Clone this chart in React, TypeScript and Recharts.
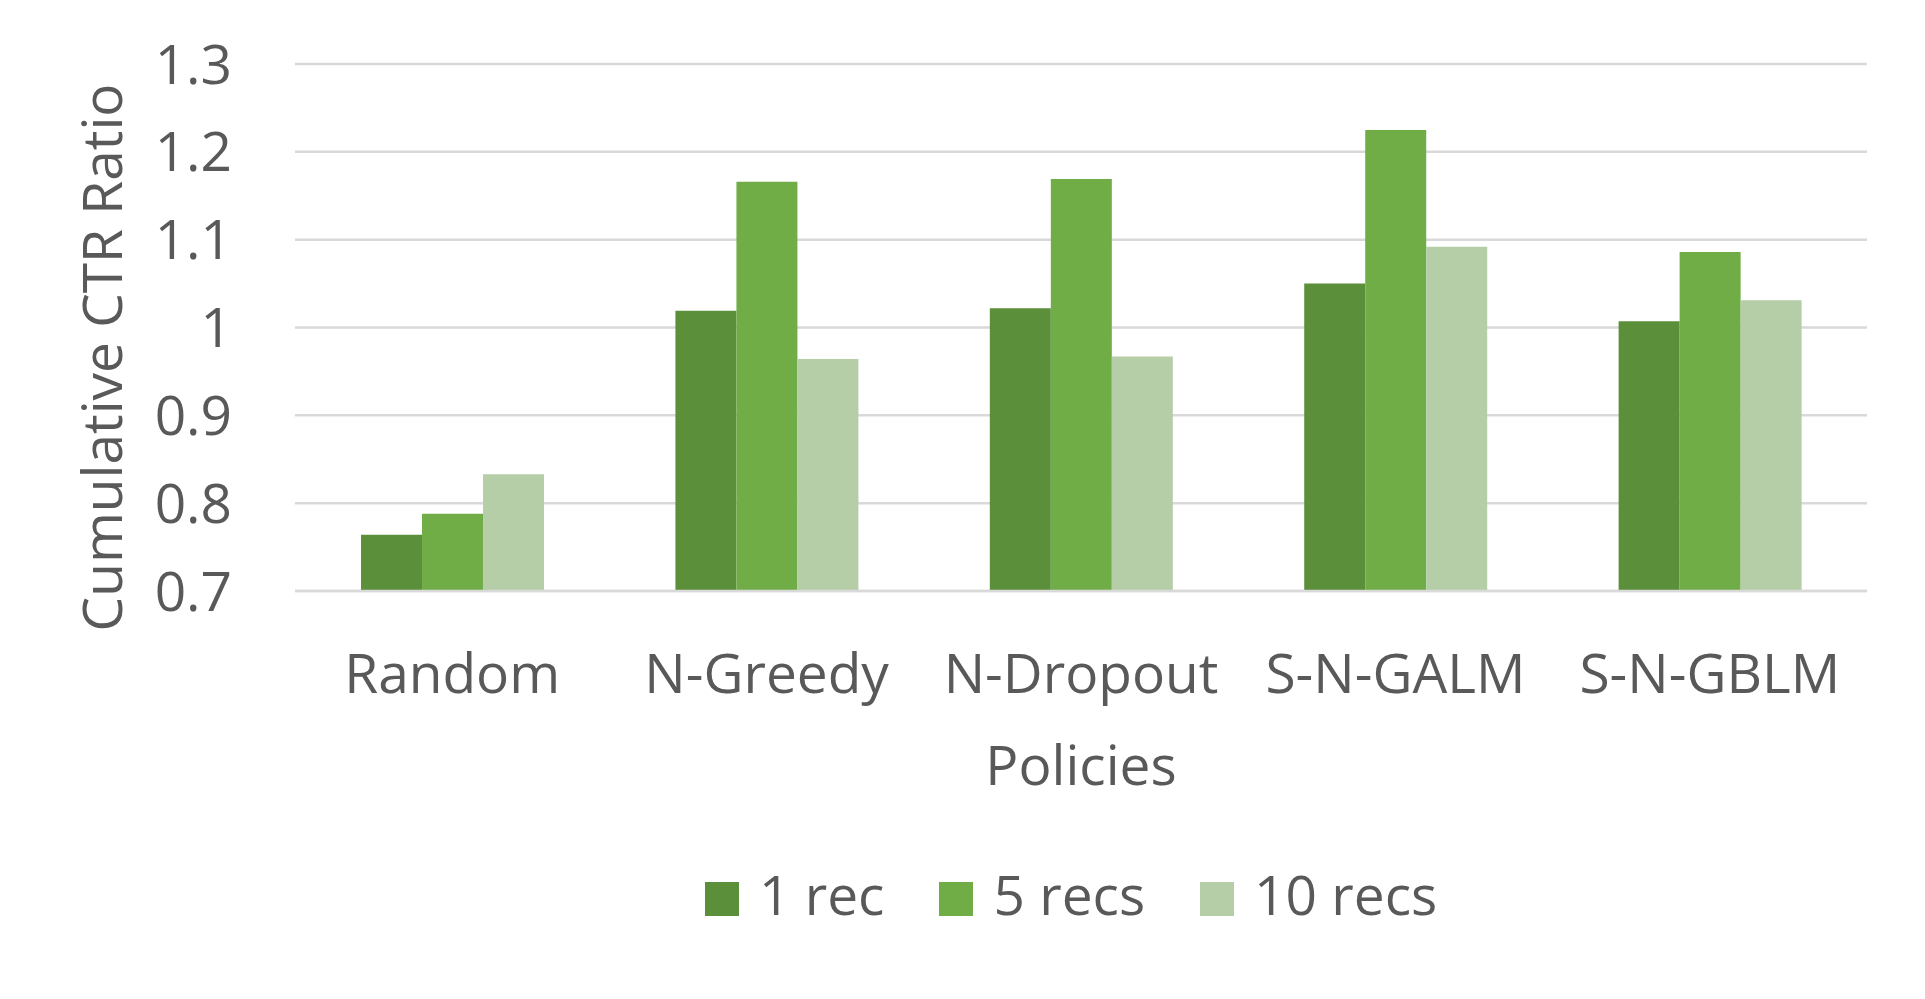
import { Bar, BarChart, CartesianGrid, Legend, XAxis, YAxis } from "recharts"

const policies = ["Random", "N-Greedy", "N-Dropout", "S-N-GALM", "S-N-GBLM"]
const oneRec = [0.764, 1.019, 1.022, 1.05, 1.007]
const fiveRecs = [0.788, 1.166, 1.169, 1.225, 1.086]
const tenRecs = [0.833, 0.964, 0.967, 1.092, 1.031]
const yTicks = [0.7, 0.8, 0.9, 1, 1.1, 1.2, 1.3]

const series = [
  { key: "rec1", name: "1 rec", color: "#5B8F3A" },
  { key: "rec5", name: "5 recs", color: "#70AD47" },
  { key: "rec10", name: "10 recs", color: "#B5CEA8" },
]

const data = policies.map((p, i) => ({
  policy: p,
  rec1: oneRec[i],
  rec5: fiveRecs[i],
  rec10: tenRecs[i],
}))

const FONT = "'Open Sans', sans-serif"
const TEXT = "#595959"

function LegendBox() {
  return (
    <div
      style={{
        height: 126,
        display: "flex",
        alignItems: "flex-start",
        paddingLeft: 705,
        fontFamily: FONT,
        fontSize: 55,
        color: TEXT,
      }}
    >
      {series.map((s) => (
        <div key={s.key} style={{ display: "flex", alignItems: "center", height: 52, marginRight: 55 }}>
          <span style={{ width: 34, height: 34, background: s.color, display: "inline-block", marginRight: 20 }} />
          <span style={{ lineHeight: "52px", position: "relative", top: -5 }}>{s.name}</span>
        </div>
      ))}
    </div>
  )
}

export default function App() {
  return (
    <div style={{ position: "absolute", left: 0, top: 0, width: 1925, height: 999, background: "#fff" }}>
      <BarChart
        width={1925}
        height={999}
        data={data}
        margin={{ top: 64, right: 58, left: 0, bottom: 0 }}
        barCategoryGap="21%"
        barGap={0}
      >
        <CartesianGrid vertical={false} stroke="#d9d9d9" strokeWidth={2.5} />
        <XAxis
          dataKey="policy"
          height={282}
          tickLine={false}
          axisLine={{ stroke: "#d9d9d9", strokeWidth: 2.5 }}
          tickMargin={57}
          tick={{ fill: TEXT, fontSize: 55, fontFamily: FONT }}
          interval={0}
          label={{
            value: "Policies",
            position: "insideTop",
            offset: 155,
            fill: TEXT,
            fontSize: 55,
            fontFamily: FONT,
          }}
        />
        <YAxis
          width={295}
          domain={[0.7, 1.3]}
          ticks={yTicks}
          allowDataOverflow
          tickLine={false}
          axisLine={false}
          tickMargin={57}
          tick={{ fill: TEXT, fontSize: 55, fontFamily: FONT }}
          tickFormatter={(v) => String(v)}
          label={(props: any) => {
            const vb = props.viewBox || { x: 0, y: 64, height: 527 }
            const cx = vb.x + 122
            const cy = vb.y + vb.height / 2 + 30
            return (
              <text
                x={cx}
                y={cy}
                transform={`rotate(-90, ${cx}, ${cy})`}
                textAnchor="middle"
                fill={TEXT}
                fontSize={55}
                fontFamily={FONT}
              >
                Cumulative CTR Ratio
              </text>
            )
          }}
        />
        <Legend verticalAlign="bottom" content={() => <LegendBox />} />
        {series.map((s) => (
          <Bar key={s.key} dataKey={s.key} name={s.name} fill={s.color} isAnimationActive={false} />
        ))}
      </BarChart>
    </div>
  )
}
